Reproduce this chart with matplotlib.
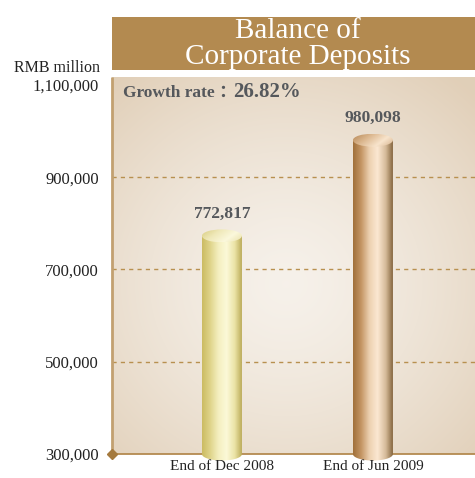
import numpy as np
import matplotlib
matplotlib.use('Agg')
import matplotlib.pyplot as plt
from matplotlib.colors import LinearSegmentedColormap
from matplotlib.patches import Rectangle, Ellipse, PathPatch
from matplotlib.path import Path

plt.rcParams['font.family'] = ['Liberation Serif', 'Noto Sans CJK SC', 'DejaVu Sans']

# data
categories = ['End of Dec 2008', 'End of Jun 2009']
values = [772817, 980098]
value_labels = ['772,817', '980,098']
yticks = [300000, 500000, 700000, 900000, 1100000]
ytick_labels = ['300,000', '500,000', '700,000', '900,000', '1,100,000']
grid_lines = [500000, 700000, 900000]
growth = '26.82%'

W, H = 475, 478
fig = plt.figure(figsize=(W / 100, H / 100), dpi=100)
fig.patch.set_facecolor('white')

def fx(px):
    return px / W

def fy(py):
    return 1 - py / H

# plot area: left 112, right 475, top 77 (=1,117,000), bottom 465.6 (=275,000)
ymin, ymax = 275000, 1117000
ax = fig.add_axes([fx(112), fy(465.6), fx(475 - 112), (465.6 - 77) / H])
xlim = (-0.728, 1.676)
ax.set_xlim(*xlim)
ax.set_ylim(ymin, ymax)
ax.patch.set_alpha(0)
for s in ax.spines.values():
    s.set_visible(False)

# background gradient
nx, ny = 200, 200
u, v = np.meshgrid(np.linspace(0, 1, nx), np.linspace(0, 1, ny))
d = np.sqrt(((u - 0.48) / 0.75) ** 2 + ((v - 0.45) / 0.7) ** 2)
d = np.clip(d, 0, 1) ** 1.4
light = np.array([0.965, 0.945, 0.918])
dark = np.array([0.882, 0.812, 0.722])
bg = light[None, None, :] + (dark - light)[None, None, :] * d[..., None]
ax.imshow(bg, extent=[xlim[0], xlim[1], 300000, ymax], origin='lower',
          aspect='auto', zorder=0, interpolation='bilinear')

# dashed grid
for g in grid_lines:
    ax.axhline(g, color='#b8904f', lw=1.0, ls=(0, (3, 3)), zorder=1)

# left axis line and baseline
ax.plot([xlim[0], xlim[0]], [300000, ymax], color='#c2a070', lw=2, zorder=2,
        solid_capstyle='butt', clip_on=False)
ax.axhline(300000, color='#b48a50', lw=1.3, zorder=2)
ax.plot([xlim[0]], [300000], marker='D', ms=5, color='#a57a3e', zorder=5, clip_on=False)

# cylinders
bar_w = 0.265
eh = 28000
cmaps = [
    LinearSegmentedColormap.from_list('c1', ['#cbbb62', '#dfd48a', '#f4efbf', '#fcf9d8', '#ebe3a6', '#b5a44e']),
    LinearSegmentedColormap.from_list('c2', ['#a0703a', '#c49564', '#ecd0b0', '#fce8d2', '#d6bb9a', '#7a5a32']),
]
top_cmaps = [
    LinearSegmentedColormap.from_list('t1', ['#d8cc80', '#efe8b8', '#fbf8dc', '#e9e0a8']),
    LinearSegmentedColormap.from_list('t2', ['#b88a58', '#dcb890', '#f8e4cc', '#d4b08a']),
]
grad = np.linspace(0, 1, 256)[None, :]
for i, val in enumerate(values):
    x0, x1 = i - bar_w / 2, i + bar_w / 2
    # body: rectangle plus bottom half ellipse
    t = np.linspace(np.pi, 2 * np.pi, 40)
    bx = i + bar_w / 2 * np.cos(t)
    by = 300000 + eh / 2 * np.sin(t)
    verts = [(x0, val)] + list(zip(bx, by)) + [(x1, val), (x0, val)]
    body = PathPatch(Path(verts), transform=ax.transData, facecolor='none', edgecolor='none')
    ax.add_patch(body)
    im = ax.imshow(grad, extent=[x0, x1, 300000 - eh, val], aspect='auto',
                   cmap=cmaps[i], zorder=3, interpolation='bilinear')
    im.set_clip_path(body)
    # top ellipse
    top = Ellipse((i, val), bar_w, eh, transform=ax.transData, facecolor='none', edgecolor='none')
    ax.add_patch(top)
    tg = np.linspace(0, 1, 64)
    tgrid = (tg[None, :] * 0.7 + tg[::-1, None] * 0.3)
    im2 = ax.imshow(tgrid, extent=[x0, x1, val - eh / 2, val + eh / 2], aspect='auto',
                    cmap=top_cmaps[i], zorder=4, interpolation='bilinear', origin='lower')
    im2.set_clip_path(top)
    ax.annotate(value_labels[i], (i, val), xytext=(0, 16), textcoords='offset points',
                ha='center', va='center', fontsize=12.5, fontweight='bold', color='#55585c')
    ax.annotate(categories[i], (i, 300000), xytext=(0, -9), textcoords='offset points',
                ha='center', va='center', fontsize=11, color='#222222', annotation_clip=False)

ax.set_xticks([])
ax.set_yticks(yticks)
ax.set_yticklabels(ytick_labels, fontsize=12, color='#222222')
ax.tick_params(axis='y', length=0, pad=9.5)

# title box
fig.patches.append(Rectangle((fx(112), fy(70)), fx(363), 53 / H, transform=fig.transFigure,
                             facecolor='#b38a50', edgecolor='none', zorder=0))
fig.text(fx(298), fy(31), 'Balance of', ha='center', va='center', color='white', fontsize=21)
fig.text(fx(298), fy(57), 'Corporate Deposits', ha='center', va='center', color='white', fontsize=21)

fig.text(fx(100), fy(68), 'RMB million', ha='right', va='center', fontsize=11.5, color='#222222')

fig.text(fx(123), fy(93), 'Growth rate \uff1a', ha='left', va='center', fontsize=12.5,
         fontweight='bold', color='#55585c')
fig.text(fx(233), fy(92), growth, ha='left', va='center', fontsize=15,
         fontweight='bold', color='#55585c')

fig.savefig('out.png', dpi=100)
